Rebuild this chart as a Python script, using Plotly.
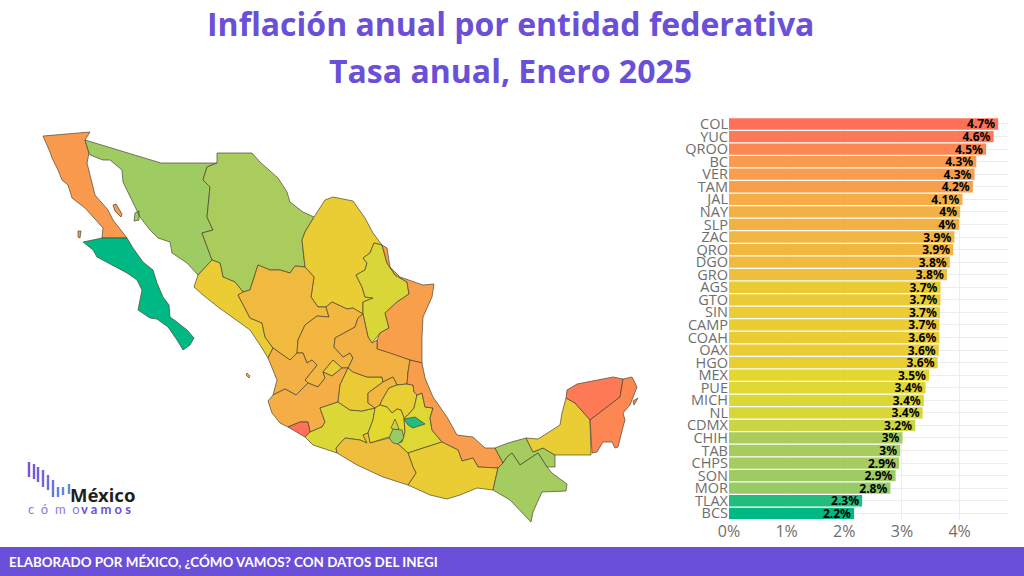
# -*- coding: utf-8 -*-
import plotly.graph_objs as go
from plotly.colors import sample_colorscale

#---------------------------------------------------------------
# DATA

STATES = ['COL','YUC','QROO','BC','VER','TAM','JAL','NAY','SLP','ZAC','QRO','DGO','GRO',
          'AGS','GTO','SIN','CAMP','COAH','OAX','HGO','MEX','PUE','MICH','NL','CDMX',
          'CHIH','TAB','CHPS','SON','MOR','TLAX','BCS']
VALUES = [4.67,4.59,4.46,4.29,4.26,4.23,4.05,4.01,3.99,3.91,3.89,3.83,3.78,
          3.67,3.67,3.66,3.65,3.65,3.64,3.62,3.47,3.41,3.38,3.36,3.23,
          3.01,2.97,2.95,2.89,2.80,2.31,2.17]
LABELS = ['4.7%','4.6%','4.5%','4.3%','4.3%','4.2%','4.1%','4%','4%','3.9%','3.9%','3.8%','3.8%',
          '3.7%','3.7%','3.7%','3.7%','3.6%','3.6%','3.6%','3.5%','3.4%','3.4%','3.4%','3.2%',
          '3%','3%','2.9%','2.9%','2.8%','2.3%','2.2%']
X_TICKS = [0,1,2,3,4]
X_TICK_TEXT = ['0%','1%','2%','3%','4%']

# colour stops as (inflation rate, colour)
RATE_STOPS = [2.17,2.80,3.00,3.23,3.47,3.67,3.80,4.05,4.30,4.67]
RATE_COLORS = ['#00B884','#97CB67','#A9CC5E','#CBD543','#E4D82F','#EBCB35','#F0BC3E','#F4AE45','#F9994E','#FF7058']

# State outlines, hand digitised: [lon, Mercator northing in degrees]. Extra rings are islands.
BC_RINGS = [[[-116.85,34.2],[-114.5,34.4],[-114.75,34],[-114.55,33.35],[-114.65,32.85],[-114.4,31.85],[-114.25,31.25],[-113.6,30.5],[-113.35,30],[-112.65,29.1],[-113.9,29.1],[-113.85,29.6],[-114.35,30.15],[-114.75,30.6],[-115.4,31.1],[-115.6,31.75],[-115.9,32],[-116.1,32.5],[-116.4,33.1],[-116.5,33.4]],
            [[-115.1,29.45],[-114.95,29.45],[-115,29.1],[-115.1,29.15]],
            [[-113.35,30.75],[-113.2,30.8],[-112.9,30.3],[-112.95,30.15],[-113.25,30.45]]]
BCS_RINGS = [[[-114.85,28.9],[-113.9,29.1],[-112.65,29.1],[-112.35,28.6],[-111.85,27.9],[-111.35,27.5],[-111.15,26.85],[-110.85,26.15],[-110.55,25.75],[-110.5,25.15],[-110.15,24.9],[-109.65,24.5],[-109.3,24.1],[-109.5,23.75],[-109.85,23.5],[-110.15,24],[-110.6,24.65],[-111.15,25.05],[-111.5,25.1],[-112.1,25.5],[-111.9,26.5],[-112.15,27],[-112.65,27.35],[-113.4,27.75],[-114.15,28.15],[-114.35,28.5]]]
SON_RINGS = [[[-114.75,34],[-110.95,32.85],[-108.15,32.85],[-108.65,32.65],[-108.85,32],[-108.5,31.65],[-108.65,30.15],[-108.35,29.5],[-108.9,29.35],[-108.65,28.65],[-108.4,28],[-109.1,27.25],[-109.65,27.85],[-110.4,28.35],[-110.5,28.9],[-111.1,29.1],[-111.5,29.5],[-112,30.15],[-112.5,31.15],[-112.85,31.9],[-112.9,32.5],[-113.5,33],[-113.85,33],[-114.5,33.25],[-114.55,33.35]],
             [[-112.25,30.35],[-112.05,30.45],[-112.05,30],[-112.3,29.95]]]
CHIH_RINGS = [[[-108.15,32.85],[-108.15,33.35],[-106.4,33.35],[-106,32.9],[-105.1,32.1],[-104.65,31.4],[-104.5,30.9],[-103.85,30.4],[-103.3,30.15],[-103.75,29.4],[-103.9,29],[-103.75,27.65],[-104.25,27.7],[-104.5,27.35],[-105,27.5],[-105.5,27.5],[-106.1,27.75],[-106.5,26.5],[-106.85,26.4],[-107.25,26.9],[-107.85,27.15],[-108,27.85],[-108.4,28],[-108.65,28.65],[-108.9,29.35],[-108.35,29.5],[-108.65,30.15],[-108.5,31.65],[-108.85,32],[-108.65,32.65]]]
COAH_RINGS = [[[-103.3,30.15],[-102.75,31],[-102.35,31.15],[-101.35,30.95],[-100.75,30.1],[-100.35,29.35],[-99.9,28.75],[-100.3,28.85],[-100.5,28.35],[-100.85,28.1],[-100.65,27.85],[-100.75,27.5],[-101.2,27.25],[-100.9,26.65],[-100.75,26.15],[-100.35,26.1],[-100.85,25.9],[-100.85,25.3],[-101.35,25.6],[-101.65,25.55],[-102.4,25.9],[-102.7,25.65],[-103.1,25.65],[-103.45,26.15],[-103.3,27.15],[-103.75,27.65],[-103.9,29],[-103.75,29.4]]]
NL_RINGS = [[[-100.3,28.85],[-99.9,28.75],[-99.65,27.85],[-99.25,27.25],[-98.65,26.9],[-98.55,26.3],[-99.15,25.9],[-99.75,25.35],[-99.55,24.6],[-100,24.35],[-100.4,23.85],[-100.6,24.15],[-100.85,25.3],[-100.85,25.9],[-100.35,26.1],[-100.75,26.15],[-100.9,26.65],[-101.2,27.25],[-100.75,27.5],[-100.65,27.85],[-100.85,28.1],[-100.5,28.35]]]
TAM_RINGS = [[[-99.9,28.75],[-99.65,28.6],[-99.5,27.65],[-99,27.15],[-97.85,26.75],[-97.3,26.8],[-97.4,26.15],[-97.85,25.15],[-97.9,24.15],[-97.9,22.85],[-98.5,23],[-99.5,23.35],[-100.15,23.55],[-100.15,24],[-100,24.35],[-99.55,24.6],[-99.75,25.35],[-99.15,25.9],[-98.55,26.3],[-98.65,26.9],[-99.25,27.25],[-99.65,27.85]]]
SIN_RINGS = [[[-109.3,26.65],[-109.1,27.25],[-108.4,28],[-108,27.85],[-107.85,27.15],[-107.25,26.9],[-106.85,26.4],[-107.1,26.25],[-106.5,25.1],[-105.9,24.85],[-105.75,24.15],[-105.35,23.6],[-105.6,23.1],[-105.9,23.6],[-106.5,24.5],[-107.35,25.1],[-108.1,25.65],[-108.85,26.25]]]
DGO_RINGS = [[[-107.1,26.25],[-106.85,26.4],[-106.5,26.5],[-106.1,27.75],[-105.5,27.5],[-105,27.5],[-104.5,27.35],[-104.25,27.7],[-103.75,27.65],[-103.3,27.15],[-103.45,26.15],[-103.1,25.65],[-102.7,25.65],[-102.55,25.15],[-103.15,25.2],[-103.75,24.75],[-104.1,24],[-104.15,23.35],[-104.5,23],[-105.35,23.6],[-105.75,24.15],[-105.9,24.85],[-106.5,25.1]]]
ZAC_RINGS = [[[-102.55,25.15],[-102.7,25.65],[-102.4,25.9],[-101.65,25.55],[-101.35,25.6],[-100.85,25.3],[-101.1,25.1],[-101.25,24.65],[-102.25,24.1],[-102.3,23.65],[-101.85,23.15],[-101.5,23.35],[-101.35,23.1],[-101.6,22.6],[-101.9,22.6],[-102.35,23],[-102.85,22.4],[-102.75,22.1],[-103.1,21.65],[-103.6,21.85],[-103.75,22],[-103.15,22.75],[-103.4,23],[-103.65,22.85],[-103.85,23.35],[-104.15,23.35],[-104.1,24],[-103.75,24.75],[-103.15,25.2]]]
NAY_RINGS = [[[-105.6,23.1],[-105.35,23.6],[-104.5,23],[-104.15,23.35],[-103.85,23.35],[-103.65,22.85],[-103.4,23],[-103.15,22.75],[-103.75,22],[-103.6,21.85],[-104.2,21.25],[-104.75,21.55],[-105.35,21.25],[-105.15,22]],
             [[-106.65,22.35],[-106.5,22.2],[-106.55,22.1],[-106.7,22.25]]]
AGS_RINGS = [[[-102.85,22.4],[-102.35,23],[-101.9,22.6],[-102.4,22.2]]]
JAL_RINGS = [[[-105.6,20.95],[-105.35,21.25],[-104.75,21.55],[-104.2,21.25],[-103.6,21.85],[-103.1,21.65],[-102.75,22.1],[-102.85,22.4],[-102.4,22.2],[-101.9,22.6],[-101.6,22.6],[-102,21.75],[-102.1,20.9],[-103,20.6],[-102.75,19.9],[-102.9,19.65],[-103.5,19.4],[-103.6,19.9],[-104,19.9],[-104.6,19.65],[-105,19.85],[-105.4,20.35]]]
COL_RINGS = [[[-104.6,19.65],[-104,19.9],[-103.6,19.9],[-103.5,19.4],[-103.75,19.15]]]
MICH_RINGS = [[[-103.5,19.4],[-102.9,19.65],[-102.75,19.9],[-103,20.6],[-102.1,20.9],[-101.5,20.5],[-100.9,20.45],[-100.25,20.6],[-100.35,20],[-100.6,19.35],[-100.85,19.25],[-100.65,18.85],[-101,19],[-101.75,19.1],[-102.2,18.6],[-102.15,18.35],[-103.35,18.75],[-103.75,19.15]]]
GTO_RINGS = [[[-102.1,20.9],[-102,21.75],[-101.6,22.6],[-101.35,22.4],[-100.65,22.15],[-99.9,22.15],[-99.85,21.9],[-100.6,21.35],[-100.6,20.85],[-100.25,20.6],[-100.9,20.45],[-101.5,20.5]]]
SLP_RINGS = [[[-100.85,25.3],[-100.6,24.15],[-100.4,23.85],[-100.15,24],[-100.15,23.55],[-99.5,23.35],[-98.5,23],[-98.6,22.4],[-98.65,21.8],[-99.15,21.75],[-99.35,22.15],[-99.85,21.9],[-99.9,22.15],[-100.65,22.15],[-101.35,22.4],[-101.6,22.6],[-101.35,23.1],[-101.5,23.35],[-101.85,23.15],[-102.3,23.65],[-102.25,24.1],[-101.25,24.65],[-101.1,25.1]]]
QRO_RINGS = [[[-99.85,21.9],[-99.35,22.15],[-99.15,21.75],[-99.55,21.6],[-99.9,21],[-100,20.75],[-100.25,20.6],[-100.6,20.85],[-100.6,21.35]]]
HGO_RINGS = [[[-99.9,21],[-99.55,21.6],[-99.15,21.75],[-98.65,21.8],[-98.35,21.75],[-98.3,21.4],[-98.15,21.25],[-98.3,20.6],[-98.6,20.25],[-98.8,20.1],[-98.95,20.5],[-99.15,20.55],[-99.4,20.35],[-99.65,20.65],[-100,20.75]]]
MEX_RINGS = [[[-100.25,20.6],[-100,20.75],[-99.65,20.65],[-99.4,20.35],[-99.15,20.55],[-98.95,20.5],[-98.8,20.1],[-98.75,19.4],[-98.9,18.9],[-99.1,18.85],[-99.55,19.15],[-100.5,18.85],[-100.6,19.35],[-100.35,20]]]
CDMX_RINGS = [[[-99.45,19.6],[-99.25,20.05],[-99.05,19.55],[-99.25,19.5]]]
MOR_RINGS = [[[-99.55,19.1],[-99.35,19.55],[-98.9,19.5],[-98.8,19.1],[-99.1,18.8],[-99.35,18.85]]]
TLAX_RINGS = [[[-98.8,20.05],[-98.25,20.15],[-97.75,19.8],[-98.35,19.6],[-98.6,19.75]]]
PUE_RINGS = [[[-98.3,20.6],[-98.15,21.25],[-97.9,21.35],[-97.75,20.65],[-97.35,20.6],[-97.5,20.1],[-97.4,19.5],[-96.9,18.9],[-97.85,18.6],[-98.6,18.35],[-99.15,18.85],[-98.9,18.9],[-98.75,19.4],[-98.8,20.1],[-98.6,20.25]]]
VER_RINGS = [[[-98.5,23],[-97.9,22.85],[-97.75,22.1],[-97.35,21.15],[-96.65,20.15],[-96.15,19.25],[-95.35,19.15],[-94.75,18.6],[-94.25,18.6],[-93.85,17.85],[-94.1,17.6],[-95.1,17.65],[-95.35,18.1],[-95.9,17.95],[-96.1,18.5],[-96.9,18.9],[-97.4,19.5],[-97.5,20.1],[-97.35,20.6],[-97.75,20.65],[-97.9,21.35],[-98.15,21.25],[-98.3,21.4],[-98.35,21.75],[-98.65,21.8],[-98.6,22.4]]]
OAX_RINGS = [[[-98.6,18.35],[-97.85,18.6],[-96.9,18.9],[-96.1,18.5],[-95.9,17.95],[-95.35,18.1],[-95.1,17.65],[-94.1,17.6],[-94.35,16.5],[-95.15,16.6],[-96,16.25],[-96.65,16.05],[-97.5,16.25],[-98.6,16.75],[-98.2,17.35],[-98.35,17.65]]]
GRO_RINGS = [[[-102.15,18.35],[-102.2,18.6],[-101.75,19.1],[-101,19],[-100.65,18.85],[-100.85,19.25],[-100.6,19.35],[-100.5,18.85],[-99.55,19.1],[-99.1,18.8],[-98.6,18.35],[-98.35,17.65],[-98.2,17.35],[-98.6,16.75],[-99.85,17.15],[-101.15,17.75]]]
TAB_RINGS = [[[-94.25,18.6],[-93.6,18.85],[-92.7,19.1],[-92.35,18.4],[-91.85,18.6],[-91.25,18.25],[-91.25,17.65],[-91.65,17.65],[-92.1,18.35],[-93,17.75],[-93.4,18.35],[-93.65,18.15],[-93.85,17.85]]]
CAMP_RINGS = [[[-90.7,21.1],[-90.25,20.85],[-89.5,20],[-89.45,18.25],[-91.25,18.25],[-91.85,18.6],[-92.35,18.4],[-92.7,19.1],[-92.1,19.05],[-91,19.75],[-90.9,20.35]]]
CHPS_RINGS = [[[-94.35,16.5],[-94.1,17.6],[-93.85,17.85],[-93.65,18.15],[-93.4,18.35],[-93,17.75],[-92.1,18.35],[-91.65,17.65],[-91.4,17.35],[-90.65,16.8],[-90.7,16.45],[-91.9,16.4],[-92.35,15.4],[-92.45,14.9],[-93.5,16]]]
YUC_RINGS = [[[-90.7,21.1],[-90.65,21.5],[-90.15,21.8],[-88.35,22.15],[-87.85,22.05],[-88,21.15],[-88.65,20.65],[-89.5,20],[-90.25,20.85]]]
QROO_RINGS = [[[-87.85,22.05],[-87.4,22.15],[-87.15,21.65],[-87.5,20.75],[-87.85,20.35],[-87.75,20],[-87.85,19.65],[-88.1,18.65],[-88.25,18.6],[-88.4,18.9],[-88.85,18.9],[-89.15,18.4],[-89.4,18.35],[-89.5,20],[-88.65,20.65],[-88,21.15]],
              [[-87.35,20.95],[-87.1,21.1],[-87.3,20.75]]]

OUTLINES = {'BC':BC_RINGS,'BCS':BCS_RINGS,'SON':SON_RINGS,'CHIH':CHIH_RINGS,'COAH':COAH_RINGS,'NL':NL_RINGS,
            'TAM':TAM_RINGS,'SIN':SIN_RINGS,'DGO':DGO_RINGS,'ZAC':ZAC_RINGS,'NAY':NAY_RINGS,'AGS':AGS_RINGS,
            'JAL':JAL_RINGS,'COL':COL_RINGS,'MICH':MICH_RINGS,'GTO':GTO_RINGS,'SLP':SLP_RINGS,'QRO':QRO_RINGS,
            'HGO':HGO_RINGS,'MEX':MEX_RINGS,'PUE':PUE_RINGS,'VER':VER_RINGS,'OAX':OAX_RINGS,'GRO':GRO_RINGS,
            'TAB':TAB_RINGS,'CAMP':CAMP_RINGS,'CHPS':CHPS_RINGS,'YUC':YUC_RINGS,'QROO':QROO_RINGS,
            'CDMX':CDMX_RINGS,'MOR':MOR_RINGS,'TLAX':TLAX_RINGS}

#---------------------------------------------------------------
# COLOURS

W, H = 1024, 576
PURPLE = '#6A50D8'

low, high = RATE_STOPS[0], RATE_STOPS[-1]
scale = [[(r-low)/(high-low), c] for r, c in zip(RATE_STOPS, RATE_COLORS)]
rate_color = dict(zip(STATES, sample_colorscale(scale, [(v-low)/(high-low) for v in VALUES])))
rate_value = dict(zip(STATES, LABELS))

#---------------------------------------------------------------
# PLOT

fig = go.Figure()

# map, one filled trace per state
for state, rings in OUTLINES.items():
    lon, north = [], []
    for ring in rings:
        lon += [p[0] for p in ring] + [ring[0][0], None]
        north += [p[1] for p in ring] + [ring[0][1], None]
    fig.add_trace(go.Scatter(x=lon, y=north, mode='lines', fill='toself', fillcolor=rate_color[state],
                             line=dict(color='rgba(70,65,45,0.85)', width=0.8), xaxis='x2', yaxis='y2',
                             name=state, text=rate_value[state], hoverinfo='name+text', showlegend=False))

# bars
fig.add_trace(go.Bar(x=VALUES, y=STATES, orientation='h', text=LABELS, textposition='inside',
                     insidetextanchor='end', textangle=0, constraintext='none', cliponaxis=False,
                     textfont=dict(family='Noto Sans', size=12, color='black', weight='bold'),
                     marker=dict(color=[rate_color[s] for s in STATES], line=dict(width=0)),
                     showlegend=False))

# footer band and logo
shapes = [dict(type='rect', xref='paper', yref='paper', x0=0, x1=1, y0=0, y1=29/H,
               fillcolor=PURPLE, line=dict(width=0), layer='below')]
LOGO_X = [29,34,38,43,48,53,58,63,69]
LOGO_TOP = [462,464,467,470,475,480,487,487,484]
LOGO_BOTTOM = [477,479,482,487,490,497,497,495,494]
LOGO_COLORS = ['#7B52D6','#7856D8','#745CDA','#7064DC','#6C6CDE','#6874E0','#647CE0','#6084E0','#5C8CE0']
for x, t, b, c in zip(LOGO_X, LOGO_TOP, LOGO_BOTTOM, LOGO_COLORS):
    shapes.append(dict(type='rect', xref='paper', yref='paper', x0=(x-1.2)/W, x1=(x+1.2)/W,
                       y0=1-b/H, y1=1-t/H, fillcolor=c, line=dict(width=0)))

def note(text, px, py, size, color, anchor='left', family='Noto Sans', weight='normal'):
    return dict(text=text, xref='paper', yref='paper', x=px/W, y=1-py/H, xanchor=anchor, yanchor='middle',
                showarrow=False, font=dict(family=family, size=size, color=color, weight=weight))

SP = '\u00a0'
annotations = [note('Inflación anual por entidad federativa', 510.5, 24, 32, PURPLE, 'center', family='Open Sans', weight='bold'),
               note('Tasa anual, Enero 2025', 510.5, 71, 32, PURPLE, 'center', family='Open Sans', weight='bold'),
               note('ELABORADO POR MÉXICO, ¿CÓMO VAMOS? CON DATOS DEL INEGI', 7, 562, 13.4, 'white', family='Lato', weight='bold'),
               note('México', 68, 494, 18.5, '#1f1f1f', weight='bold'),
               note((SP*2).join('cómo'), 26, 509, 13, '#8C7BE0', family='Lato'),
               note(SP.join('vamos'), 79, 509, 13, PURPLE, family='Lato', weight='bold')]

fig.update_layout(width=W, height=H, margin=dict(l=0, r=0, t=0, b=0, pad=0, autoexpand=False),
                  paper_bgcolor='white', plot_bgcolor='white',
                  bargap=0.1, shapes=shapes, annotations=annotations,
                  xaxis=dict(domain=[729/W, 1008/W], range=[0, 4.84], tickvals=X_TICKS, ticktext=X_TICK_TEXT,
                             gridcolor='#ececec', zeroline=False, anchor='y', automargin=False, ticks='',
                             tickfont=dict(family='Open Sans', size=16, color='#6e6e6e')),
                  yaxis=dict(domain=[1-519.6/H, 1-117.7/H], autorange='reversed', gridcolor='#ececec', anchor='x',
                             automargin=False, ticks='',
                             tickfont=dict(family='Open Sans', size=14.5, color='#6e6e6e'), dtick=1),
                  xaxis2=dict(domain=[0, 680/W], range=[-119, -85], visible=False, anchor='y2'),
                  yaxis2=dict(domain=[1-540/H, 1-110/H], range=[14, 35.5], visible=False, anchor='x2'))

fig.write_html("out.html", config={'displayModeBar': False}, post_script="document.body.style.margin='0'")
